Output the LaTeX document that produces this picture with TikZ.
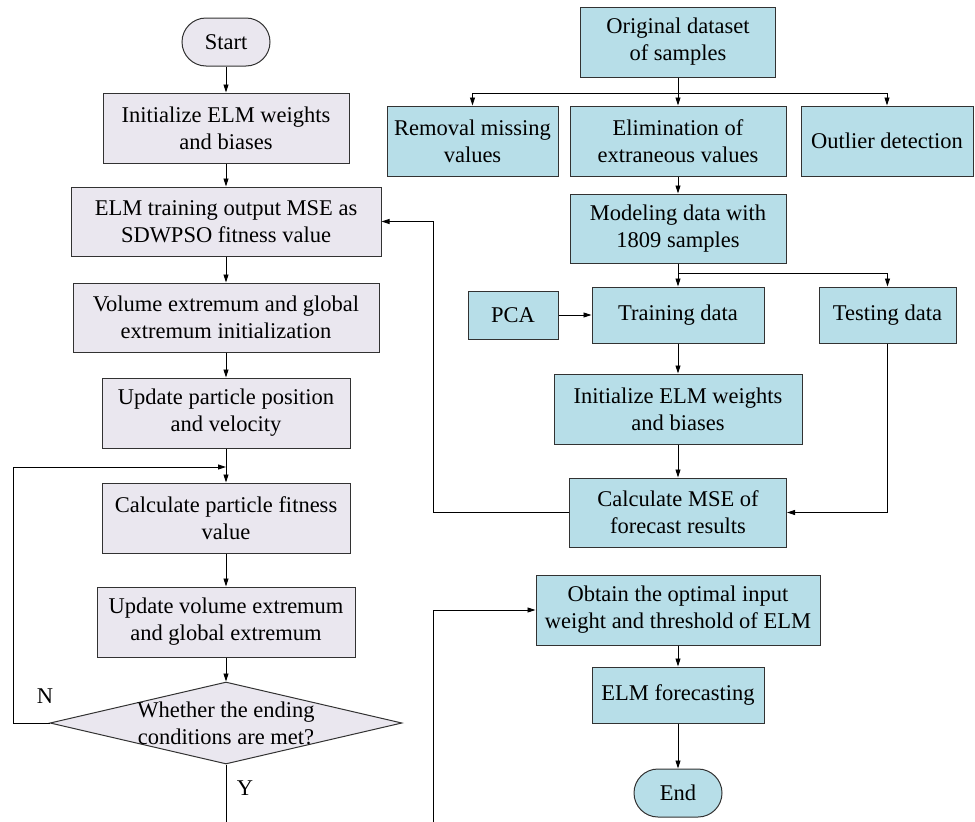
\documentclass[tikz,border=0pt]{standalone}
\usepackage{fontspec}
\setmainfont{Liberation Serif}
\usetikzlibrary{arrows.meta,shapes.geometric}
\definecolor{lav}{RGB}{234,231,239}
\definecolor{aqua}{RGB}{183,222,232}
\definecolor{edge}{RGB}{50,50,50}
\begin{document}
\begin{tikzpicture}[x=1pt,y=-1pt,
  base/.style={draw=edge, line width=1pt, inner sep=0pt, align=center,
               font=\fontsize{22.5}{27}\selectfont},
  lbox/.style={base, fill=lav},
  rbox/.style={base, fill=aqua},
  sz/.style n args={2}{minimum width=#1pt, minimum height=#2pt},
  term/.style={rounded corners=24pt, minimum width=88pt, minimum height=48pt},
  arr/.style={draw=black, line width=0.9pt, -{Triangle[length=8pt,width=5pt]}},
  ln/.style={draw=black, line width=0.9pt},
  lab/.style={font=\fontsize{22.5}{27}\selectfont, inner sep=0pt}
]
\useasboundingbox (0,0) rectangle (975,822);

% left column: SDWPSO optimisation loop
\node[lbox,term] (start) at (226,42) {Start};
\node[lbox,sz={246}{70}] (initL) at (226,128) {Initialize ELM weights\\and biases};
\node[lbox,sz={310}{69}] (train) at (226,221.5) {ELM training output MSE as\\SDWPSO fitness value};
\node[lbox,sz={306}{69}] (volinit) at (226,317.5) {Volume extremum and global\\extremum initialization};
\node[lbox,sz={248}{70}] (updpos) at (226,413) {Update particle position\\and velocity};
\node[lbox,sz={248}{70}] (calcfit) at (226,518) {Calculate particle fitness\\value};
\node[lbox,sz={258}{70}] (updvol) at (226,622) {Update volume extremum\\and global extremum};
\node[lbox,shape=diamond,sz={352}{82}] (cond) at (226,723) {};
\node[lab,align=center] (condtxt) at (226,723.5) {Whether the ending\\conditions are met?};
\node[lab] (nlab) at (45,696) {N};
\node[lab] (ylab) at (245,788) {Y};

% right column: data preparation and forecasting
\node[rbox,sz={195}{70}] (orig) at (678,42) {Original dataset\\of samples};
\node[rbox,sz={171}{70}] (rem) at (472.5,141) {Removal missing\\values};
\node[rbox,sz={216}{70}] (elim) at (678,141) {Elimination of\\extraneous values};
\node[rbox,sz={172}{70}] (outl) at (887,141) {Outlier detection};
\node[rbox,sz={216}{69}] (model) at (678,228.5) {Modeling data with\\1809 samples};
\node[rbox,sz={90}{48}] (pca) at (513,315) {PCA};
\node[rbox,sz={172}{56}] (trd) at (678,315) {Training data};
\node[rbox,sz={137}{56}] (ted) at (887.5,315) {Testing data};
\node[rbox,sz={248}{70}] (initR) at (678,409) {Initialize ELM weights\\and biases};
\node[rbox,sz={217}{69}] (mse) at (678,512.5) {Calculate MSE of\\forecast results};
\node[rbox,sz={284}{70}] (obt) at (678,610) {Obtain the optimal input\\weight and threshold of ELM};
\node[rbox,sz={172}{56}] (fc) at (678,695) {ELM forecasting};
\node[rbox,term] (finish) at (678,793) {End};

% junction points
\coordinate (br1) at (678,93);
\coordinate (br2) at (678,273);
\coordinate (merge) at (226,467);
\coordinate (nturn) at (13,723);
\coordinate (yend) at (226,822);
\coordinate (fb) at (433,512.5);
\coordinate (jbot) at (433,822);

% left connectors
\draw[arr] (start) -- (initL);
\draw[arr] (initL) -- (train);
\draw[arr] (train) -- (volinit);
\draw[arr] (volinit) -- (updpos);
\draw[arr] (updpos) -- (calcfit);
\draw[arr] (calcfit) -- (updvol);
\draw[arr] (updvol) -- (cond);
\draw[arr] (cond.west) -- (nturn) |- (merge);
\draw[ln] (cond.south) -- (yend);

% right connectors
\draw[arr] (orig) -- (elim);
\draw[arr] (br1) -| (rem.north);
\draw[arr] (br1) -| (outl.north);
\draw[arr] (elim) -- (model);
\draw[arr] (model) -- (trd);
\draw[arr] (br2) -| (ted.north);
\draw[arr] (pca) -- (trd);
\draw[arr] (trd) -- (initR);
\draw[arr] (initR) -- (mse);
\draw[arr] (ted.south) |- (mse.east);
\draw[arr] (mse.west) -- (fb) |- (train.east);
\draw[arr] (jbot) |- (obt.west);
\draw[arr] (obt) -- (fc);
\draw[arr] (fc) -- (finish);
\end{tikzpicture}
\end{document}
